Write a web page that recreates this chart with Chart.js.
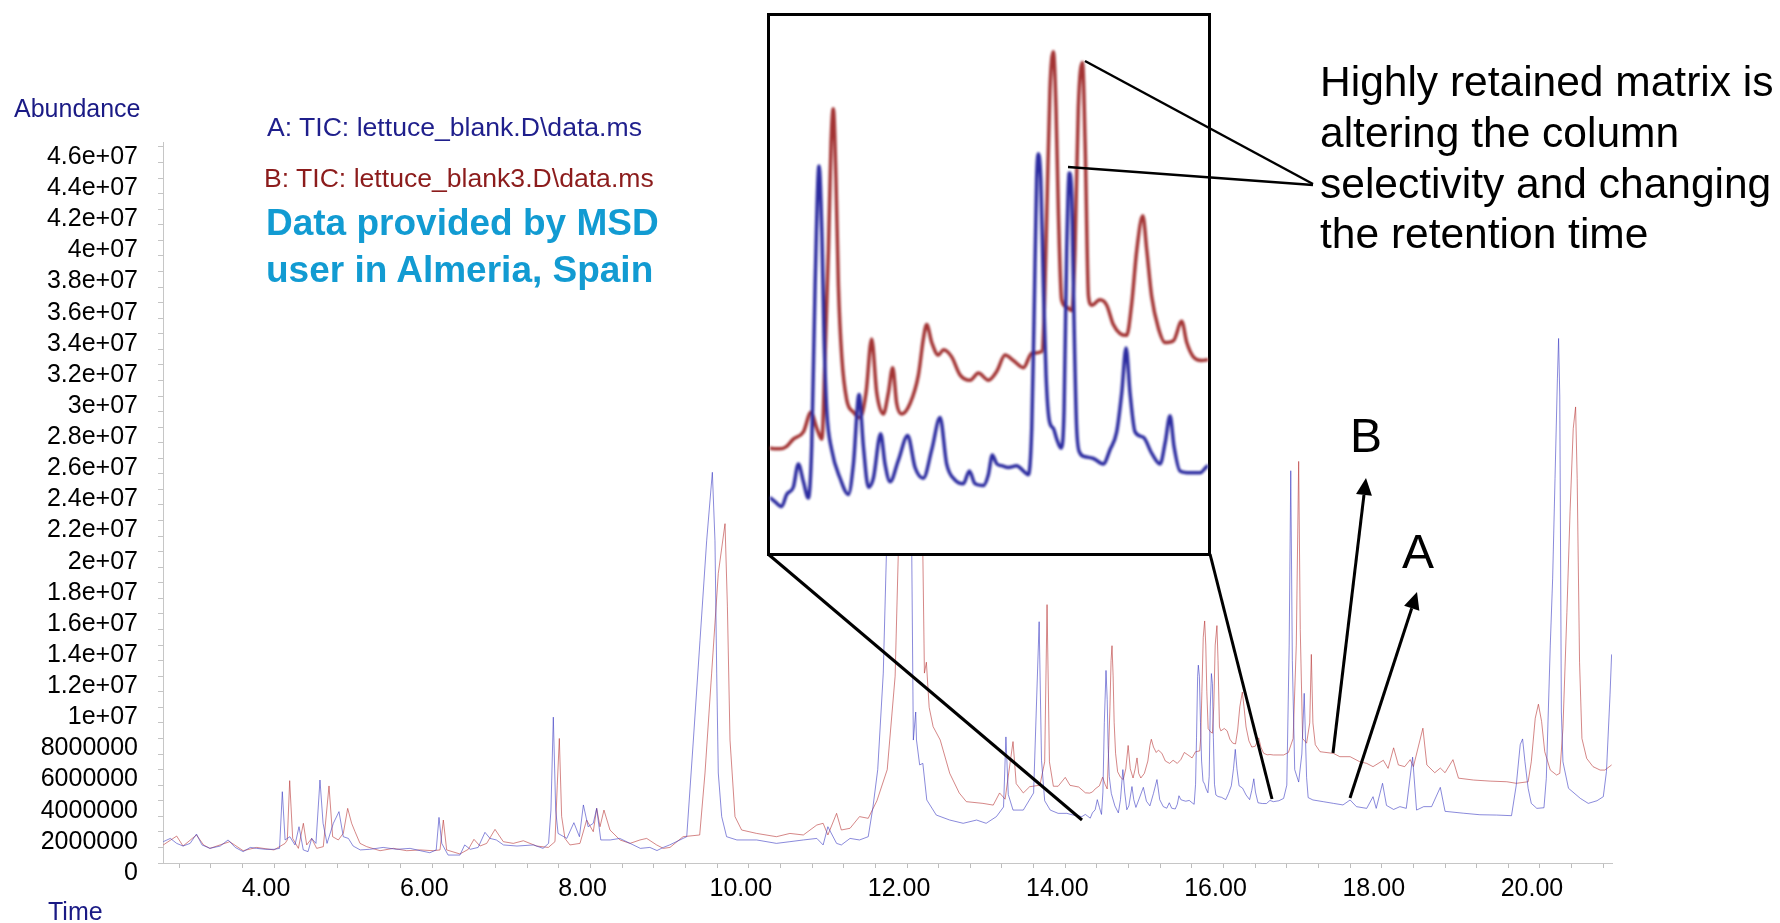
<!DOCTYPE html>
<html>
<head>
<meta charset="utf-8">
<title>TIC: lettuce blanks</title>
<script src="https://cdn.jsdelivr.net/npm/chart.js@4.4.1/dist/chart.umd.min.js"></script>
<style>
  html, body { margin: 0; padding: 0; background: #fff; }
  #stage { position: relative; width: 1780px; height: 923px; overflow: hidden;
           font-family: "Liberation Sans", Arial, sans-serif; }
  #main, #notes { position: absolute; left: 0; top: 0; }
  #notes { pointer-events: none; }
  #zoomBox { position: absolute; left: 767px; top: 13px; width: 438px; height: 537px;
             border: 3px solid #000; background: #fff; }
  #zoomCanvas { position: absolute; left: 0; top: 0; filter: blur(0.8px); }
  .lbl { position: absolute; white-space: nowrap; line-height: 1; }
</style>
</head>
<body>
<div id="stage">
  <canvas id="main" width="1780" height="923"></canvas>
  <div id="zoomBox"><canvas id="zoomCanvas" width="438" height="537"></canvas></div>
  <canvas id="notes" width="1780" height="923"></canvas>

  <div class="lbl" style="left:14px;top:96px;font-size:25px;color:#1a1a85">Abundance</div>
  <div class="lbl" style="left:48px;top:899px;font-size:25px;color:#1a1a85">Time</div>
  <div class="lbl" style="left:267px;top:114px;font-size:26.6px;color:#1f1f8c">A: TIC: lettuce_blank.D\data.ms</div>
  <div class="lbl" style="left:264px;top:165px;font-size:26.6px;color:#8c1c1c">B: TIC: lettuce_blank3.D\data.ms</div>
  <div class="lbl" style="left:266px;top:200px;font-size:37px;font-weight:bold;line-height:46.5px;color:#129bd2">Data provided by MSD<br>user in Almeria, Spain</div>
  <div class="lbl" style="left:1320px;top:57px;font-size:42.5px;line-height:50.8px;color:#000">Highly retained matrix is<br>altering the column<br>selectivity and changing<br>the retention time</div>
  <div class="lbl" style="left:1350px;top:412px;font-size:48px;color:#000">B</div>
  <div class="lbl" style="left:1402px;top:528px;font-size:48px;color:#000">A</div>
</div>

<script>
// retention time (min) / abundance (millions) for run A: lettuce_blank
const timeA = [
  2.60, 2.69, 2.77, 2.85, 2.94, 3.02, 3.09, 3.19, 3.32, 3.42, 3.51, 3.61, 3.70, 3.78, 3.89,
  4.00, 4.07, 4.105, 4.14, 4.20, 4.265, 4.316, 4.37, 4.43, 4.476, 4.53, 4.581, 4.62, 4.67,
  4.75, 4.821, 4.876, 4.94, 5.00, 5.09, 5.21, 5.38, 5.55, 5.72, 5.85, 5.97, 6.05, 6.085,
  6.12, 6.20, 6.35, 6.41, 6.48, 6.58, 6.666, 6.73, 6.81, 6.90, 7.07, 7.28, 7.40, 7.47, 7.50,
  7.53, 7.56, 7.59, 7.70, 7.79, 7.86, 7.91, 7.97, 8.035, 8.078, 8.13, 8.25, 8.37, 8.50,
  8.63, 8.75, 8.84, 8.92, 9.00, 9.17, 9.216, 9.30, 9.384, 9.468, 9.54, 9.573, 9.595, 9.615,
  9.658, 9.72, 9.85, 10.10, 10.35, 10.52, 10.69, 10.86, 10.94, 11.00, 11.11, 11.17, 11.28,
  11.40, 11.51, 11.57, 11.63, 11.70, 11.74, 11.80, 11.90, 12.00, 12.06, 12.08, 12.11, 12.12,
  12.16, 12.20, 12.25, 12.37, 12.54, 12.71, 12.88, 13.00, 13.13, 13.22, 13.25, 13.28, 13.34,
  13.47, 13.60, 13.67, 13.70, 13.74, 13.81, 13.91, 14.02, 14.10, 14.21,
  14.254, 14.28, 14.316, 14.343, 14.378, 14.405, 14.432, 14.458, 14.476, 14.494, 14.515,
  14.53, 14.542, 14.556, 14.582, 14.627, 14.671, 14.698, 14.728, 14.751, 14.778, 14.804,
  14.843, 14.866, 14.893, 14.937, 14.987, 15.026, 15.07, 15.115, 15.159, 15.194, 15.239,
  15.283, 15.315, 15.345, 15.39, 15.416, 15.437, 15.461, 15.487, 15.523, 15.567, 15.603,
  15.629, 15.647, 15.659, 15.673, 15.682, 15.695, 15.709, 15.723, 15.741, 15.762, 15.78,
  15.803, 15.819, 15.833, 15.847, 15.86, 15.872, 15.886, 15.904, 15.931, 15.975, 16.028,
  16.064, 16.099, 16.126, 16.149, 16.17, 16.197, 16.241, 16.285, 16.33, 16.357, 16.383,
  16.404, 16.436, 16.49, 16.543, 16.587,
  16.63, 16.70, 16.76, 16.80, 16.83, 16.85, 16.87, 16.90, 16.95, 16.99, 17.02, 17.05, 17.07,
  17.13, 17.26, 17.39, 17.51, 17.60, 17.68, 17.81, 17.89, 17.93, 18.01, 18.06, 18.15, 18.23,
  18.31, 18.39, 18.44, 18.53, 18.63, 18.74, 18.80, 19.03, 19.24, 19.45, 19.64, 19.70, 19.75,
  19.78, 19.81, 19.85, 19.89, 19.96, 20.05, 20.08, 20.13, 20.16, 20.19, 20.22, 20.235, 20.25,
  20.27, 20.29, 20.36, 20.51, 20.61, 20.72, 20.80, 20.84, 20.885, 20.905
];
const abundA = [
  1.37, 1.58, 1.26, 1.09, 1.26, 1.86, 1.16, 0.94, 1.09, 1.48, 1.00, 0.73, 1.00, 0.94, 0.88,
  0.88, 0.94, 4.58, 1.48, 1.69, 1.16, 2.33, 0.84, 0.73, 1.58, 1.26, 5.33, 2.55, 1.26,
  2.55, 3.30, 1.69, 1.58, 1.09, 0.84, 0.88, 1.00, 0.88, 0.94, 0.79, 0.66, 0.84, 2.93,
  1.26, 0.51, 0.51, 1.16, 0.88, 1.00, 1.97, 1.58, 1.48, 1.16, 1.09, 1.16, 0.94, 1.26, 3.40,
  9.37, 3.40, 1.90, 1.58, 2.59, 1.69, 3.73, 2.33, 2.55, 3.51, 1.48, 1.48, 1.58, 1.26,
  0.94, 1.00, 0.80, 1.00, 1.16, 1.58, 1.69, 7.90, 14.3, 20.7, 25.1, 20.7, 12.2, 5.78,
  2.98, 1.69, 1.48, 1.48, 1.26, 1.37, 1.48, 1.58, 1.16, 2.33, 1.26, 1.16, 1.58,
  1.48, 1.69, 3.60, 6.00, 12.2, 19.9, 24.0, 26.0, 25.0, 19.9, 7.90, 9.70, 7.90,
  6.30, 6.40, 4.05, 3.08, 2.76, 2.55, 2.76, 2.55, 2.98, 3.60, 8.10, 4.40, 3.40,
  3.40, 4.50, 15.5, 6.60, 4.00, 3.40, 3.19, 3.19, 3.08, 2.98,
  3.12, 3.02, 2.88, 3.22, 3.42, 4.07, 3.57, 3.12, 4.56, 9.04, 12.37,
  10.5, 7.55, 5.56, 4.47, 3.67, 3.22, 4.07, 6.00, 4.56, 3.42, 3.67,
  4.91, 4.07, 3.57, 4.17, 4.86, 3.97, 3.67, 4.47, 5.36, 4.07, 3.62,
  3.52, 3.87, 3.52, 3.47, 3.77, 4.32, 4.07, 4.02, 3.97, 4.02, 3.87,
  3.77, 5.06, 8.04, 12.0, 12.71, 12.0, 9.04, 6.55, 5.26, 5.06, 4.76,
  4.51, 5.56, 10.03, 12.17, 11.52, 8.04, 5.06, 4.37, 4.27, 4.22, 4.07,
  4.47, 4.96, 6.05, 7.30, 6.05, 4.96, 4.81, 4.37, 4.07, 4.66, 5.41,
  4.56, 3.87, 3.82, 3.82, 4.02,
  3.94, 4.00, 4.15, 5.00, 14.0, 25.2, 13.0, 6.00, 5.20, 7.00, 10.9, 5.50, 4.20,
  4.05, 3.94, 3.83, 3.73, 4.05, 3.62, 3.51, 4.26, 3.51, 5.12, 3.70, 3.44, 3.62,
  3.51, 6.80, 3.40, 3.62, 3.62, 4.86, 3.32, 3.20, 3.10, 3.08, 3.04, 5.00, 7.60,
  7.97, 6.50, 4.80, 3.83, 3.51, 3.55, 5.44, 14.0, 18.3, 24.7, 31.1, 33.7, 30.0,
  9.70, 6.50, 4.80, 4.15, 3.83, 4.00, 4.26, 5.87, 10.8, 13.4
];

// retention time (min) / abundance (millions) for run B: lettuce_blank3
const timeB = [
  2.60, 2.77, 2.85, 3.02, 3.11, 3.19, 3.44, 3.61, 3.78, 4.00, 4.14, 4.168, 4.198, 4.236,
  4.308, 4.371, 4.413, 4.476, 4.539, 4.623, 4.695, 4.741, 4.813, 4.876, 4.931, 4.981, 5.024,
  5.087, 5.171, 5.34, 5.508, 5.677, 5.845, 6.013, 6.098, 6.14, 6.182, 6.35, 6.456, 6.527,
  6.603, 6.688, 6.793, 6.898, 7.024, 7.151, 7.319, 7.467, 7.551, 7.58, 7.606, 7.635, 7.677,
  7.74, 7.867, 7.951, 8.035, 8.078, 8.12, 8.17, 8.246, 8.373, 8.499, 8.625, 8.71, 8.836,
  8.92, 9.004, 9.17, 9.38, 9.447, 9.531, 9.615, 9.70, 9.73, 9.763, 9.826, 9.91, 10.10,
  10.35, 10.52, 10.69, 10.86, 10.94, 11.00, 11.11, 11.17, 11.28, 11.40, 11.51, 11.62, 11.75,
  11.85, 11.89, 12.00, 12.10, 12.20, 12.22, 12.245, 12.28, 12.33, 12.42, 12.54, 12.66, 12.75,
  12.96, 13.09, 13.17, 13.24, 13.34, 13.38, 13.47, 13.55, 13.68, 13.74, 13.77, 13.80, 13.85,
  13.91, 14.00, 14.06, 14.17,
  14.254, 14.307, 14.343, 14.378, 14.432, 14.472, 14.503, 14.53, 14.547, 14.565, 14.579,
  14.591, 14.605, 14.618, 14.636, 14.662, 14.698, 14.733, 14.765, 14.795, 14.822, 14.857,
  14.884, 14.907, 14.928, 14.955, 15.00, 15.044, 15.07, 15.088, 15.115, 15.15, 15.177,
  15.221, 15.265, 15.319, 15.363, 15.416, 15.461, 15.505, 15.549, 15.603, 15.647, 15.70,
  15.712, 15.727, 15.744, 15.762, 15.776, 15.789, 15.806, 15.833, 15.86, 15.877, 15.895,
  15.917, 15.931, 15.949, 15.966, 16.01, 16.046, 16.081, 16.117, 16.152, 16.179, 16.206,
  16.238, 16.259, 16.285, 16.321, 16.357, 16.401, 16.445, 16.472, 16.507, 16.552, 16.587,
  16.63, 16.76, 16.82, 16.88, 16.92, 16.95, 16.97, 17.00, 17.05, 17.09, 17.11, 17.13, 17.16,
  17.22, 17.39, 17.47, 17.60, 17.72, 17.81, 17.89, 18.02, 18.08, 18.15, 18.21, 18.29, 18.36,
  18.40, 18.52, 18.57, 18.67, 18.74, 18.80, 18.90, 18.97, 19.16, 19.37, 19.58, 19.70, 19.85,
  19.89, 19.94, 19.98, 20.02, 20.06, 20.13, 20.21, 20.25, 20.29, 20.34, 20.38, 20.42, 20.45,
  20.47, 20.50, 20.53, 20.59, 20.67, 20.76, 20.82, 20.905
];
const abundB = [
  1.16, 1.73, 1.09, 1.80, 1.16, 0.94, 1.37, 0.79, 1.00, 0.84, 1.26, 1.48, 5.29, 1.58,
  0.94, 2.55, 1.16, 1.58, 0.94, 1.05, 4.95, 1.69, 1.48, 1.91, 3.51, 2.55, 2.01,
  1.26, 1.05, 0.79, 0.94, 0.79, 0.84, 0.79, 0.84, 2.76, 0.84, 0.58, 0.88, 1.52,
  1.09, 1.26, 2.16, 1.37, 1.26, 1.43, 1.09, 1.00, 1.37, 5.00, 8.00, 3.00, 1.58,
  1.16, 1.26, 2.76, 2.01, 3.51, 2.33, 3.40, 2.12, 1.48, 1.26, 1.48, 1.58, 1.16,
  0.94, 1.00, 1.69, 1.80, 5.78, 12.2, 18.6, 21.8, 16.5, 7.90, 2.98, 2.12, 1.90,
  1.69, 1.90, 1.80, 2.44, 2.55, 1.80, 3.19, 2.12, 2.23, 2.98, 2.87, 4.00, 6.00,
  12.0, 19.9, 24.0, 23.0, 19.9, 12.2, 12.9, 10.0, 8.76, 7.90, 5.76, 4.50, 3.94,
  3.83, 3.72, 4.50, 4.10, 7.80, 5.10, 4.50, 4.90, 5.00, 6.50, 16.6, 6.50, 4.93,
  4.93, 5.50, 4.99, 4.88,
  4.51, 4.49, 4.56, 4.76, 4.96, 5.51, 5.06, 4.76, 7.05, 10.03, 13.01,
  13.96, 12.02, 9.04, 7.05, 5.86, 5.51, 5.36, 6.05, 7.55, 6.05, 5.46,
  6.05, 6.75, 5.76, 5.46, 5.76, 6.55, 7.55, 7.95, 7.45, 7.10, 7.25,
  7.05, 6.55, 6.40, 6.60, 6.40, 6.65, 7.10, 6.95, 6.75, 7.15, 7.20,
  8.04, 11.03, 14.5, 15.55, 14.0, 11.03, 8.64, 8.44, 8.34, 10.03, 14.0,
  15.25, 13.01, 8.74, 8.49, 8.64, 8.49, 7.95, 7.70, 7.65, 8.54, 10.03,
  10.98, 10.03, 8.74, 7.85, 7.45, 7.50, 8.04, 7.45, 7.05, 6.95, 6.97,
  6.94, 6.94, 7.10, 8.00, 14.0, 25.8, 15.0, 8.00, 7.70, 9.00, 13.4, 9.00, 7.60,
  7.15, 7.04, 6.83, 6.83, 6.51, 6.40, 6.19, 6.60, 6.08, 7.40, 6.30, 6.19, 6.64,
  6.19, 8.66, 6.30, 5.80, 6.10, 5.80, 6.64, 5.45, 5.33, 5.26, 5.22, 5.12, 5.22,
  6.50, 9.30, 10.2, 9.10, 7.15, 5.97, 5.65, 5.76, 8.65, 16.1, 22.6, 27.9, 29.3,
  24.7, 12.9, 8.00, 6.72, 6.19, 5.97, 5.97, 6.30
];

// labelled ticks: minutes on x, millions on y
const xMajorTicks = [4, 6, 8, 10, 12, 14, 16, 18, 20];
const yMajorTicks = [0, 2, 4, 6, 8, 10, 12, 14, 16, 18, 20, 22, 24, 26, 28, 30, 32, 34, 36, 38, 40, 42, 44, 46];

// window shown in the magnified box (minutes, millions)
const zoomTime = [14.254, 16.585];
const zoomAbund = [1.588, 16.546];

const FONT = "'Liberation Sans', Arial, sans-serif";

const toPoints = (ts, vs) => ts.map((t, i) => ({ x: t, y: vs[i] }));

function abundLabel(m) {
  const n = Math.round(m * 1e6);
  return n < 1e7 ? String(n) : (m / 10) + 'e+07';
}

const mainChart = new Chart(document.getElementById('main'), {
  type: 'line',
  data: {
    datasets: [
      {
        label: 'A: TIC: lettuce_blank.D\\data.ms',
        data: toPoints(timeA, abundA),
        borderColor: 'rgba(60, 60, 195, 0.6)',
        borderWidth: 1,
        pointRadius: 0,
        tension: 0
      },
      {
        label: 'B: TIC: lettuce_blank3.D\\data.ms',
        data: toPoints(timeB, abundB),
        borderColor: 'rgba(185, 55, 55, 0.6)',
        borderWidth: 1,
        pointRadius: 0,
        tension: 0
      }
    ]
  },
  options: {
    responsive: false,
    animation: false,
    events: [],
    layout: { padding: { top: 142, right: 168, bottom: 0, left: 0 } },
    plugins: {
      legend: { display: false },
      tooltip: { enabled: false }
    },
    scales: {
      x: {
        type: 'linear',
        min: 2.597,
        max: 20.91,
        afterBuildTicks: (scale) => {
          const ticks = [];
          for (let v = 2.8; v < 20.85; v += 0.4) ticks.push({ value: Math.round(v * 10) / 10 });
          scale.ticks = ticks;
        },
        afterFit: (scale) => { scale.height = 60; },
        grid: { drawOnChartArea: false, drawTicks: true, tickLength: 5, tickColor: '#bdbdbd' },
        border: { display: true, color: '#c6c6c6', width: 1 },
        ticks: {
          autoSkip: false,
          maxRotation: 0,
          labelOffset: -8,
          padding: 6,
          color: '#000',
          font: { family: FONT, size: 25 },
          callback: (v) => xMajorTicks.includes(v) ? v.toFixed(2) : ''
        }
      },
      y: {
        min: 0,
        max: 46.32,
        afterBuildTicks: (scale) => {
          const ticks = [];
          for (let v = 0; v <= 46; v++) ticks.push({ value: v });
          scale.ticks = ticks;
        },
        afterFit: (scale) => { scale.width = 163; },
        grid: { drawOnChartArea: false, drawTicks: true, tickLength: 5, tickColor: '#c4c4c4' },
        border: { display: true, color: '#c6c6c6', width: 1 },
        ticks: {
          autoSkip: false,
          labelOffset: 10,
          padding: 20,
          color: '#000',
          font: { family: FONT, size: 25 },
          callback: (v) => yMajorTicks.includes(v) ? abundLabel(v) : ''
        }
      }
    }
  }
});

// magnified view of the 14.3 - 16.6 min window, smoothed like the enlarged trace
const zoomChart = new Chart(document.getElementById('zoomCanvas'), {
  type: 'line',
  data: {
    datasets: [
      {
        data: toPoints(timeA, abundA),
        borderColor: '#2c2ca0',
        borderWidth: 3.5,
        borderJoinStyle: 'round',
        borderCapStyle: 'round',
        cubicInterpolationMode: 'monotone',
        pointRadius: 0
      },
      {
        data: toPoints(timeB, abundB),
        borderColor: '#a33434',
        borderWidth: 3.5,
        borderJoinStyle: 'round',
        borderCapStyle: 'round',
        cubicInterpolationMode: 'monotone',
        pointRadius: 0
      }
    ]
  },
  options: {
    responsive: false,
    animation: false,
    events: [],
    layout: { padding: 0 },
    plugins: { legend: { display: false }, tooltip: { enabled: false } },
    scales: {
      x: { type: 'linear', display: false, min: zoomTime[0], max: zoomTime[1] },
      y: { display: false, min: zoomAbund[0], max: zoomAbund[1] }
    }
  }
});

// connector lines, callouts and arrows on top of both charts
const notes = document.getElementById('notes').getContext('2d');
notes.strokeStyle = '#000';
notes.fillStyle = '#000';

function segment(x1, y1, x2, y2, w) {
  notes.lineWidth = w;
  notes.beginPath();
  notes.moveTo(x1, y1);
  notes.lineTo(x2, y2);
  notes.stroke();
}

function arrow(x1, y1, x2, y2) {
  const len = Math.hypot(x2 - x1, y2 - y1);
  const ux = (x2 - x1) / len, uy = (y2 - y1) / len;
  const head = 17, half = 8;
  const bx = x2 - ux * head, by = y2 - uy * head;
  segment(x1, y1, bx, by, 3);
  notes.beginPath();
  notes.moveTo(x2, y2);
  notes.lineTo(bx - uy * half, by + ux * half);
  notes.lineTo(bx + uy * half, by - ux * half);
  notes.closePath();
  notes.fill();
}

segment(768, 554, 1082, 820, 3);
segment(1210, 554, 1272, 799, 3);
segment(1313, 184, 1085, 61, 2.5);
segment(1313, 185, 1068, 167, 2.5);
arrow(1333, 753, 1366, 478);
arrow(1350, 798, 1417, 592);
</script>
</body>
</html>
